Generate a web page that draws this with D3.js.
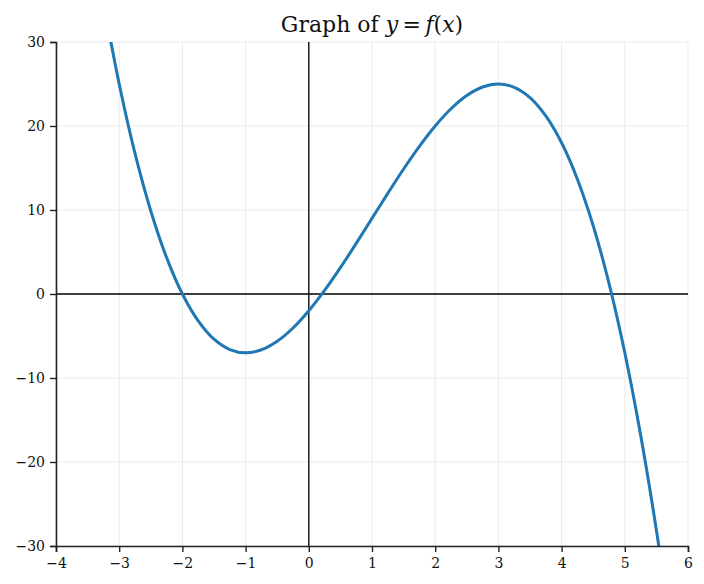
<!DOCTYPE html>
<html>
<head>
<meta charset="utf-8">
<script src="https://cdn.jsdelivr.net/npm/d3@7"></script>
<style>
  body { margin: 0; background: #fff; }
  text { font-family: 'DejaVu Serif', serif; }
</style>
</head>
<body>
<div id="chart"></div>
<script>
// points
const xs = [-3.25, -3, -2.75, -2.5, -2.25, -2, -1.75, -1.5, -1.25, -1, -0.75, -0.5, -0.25,
  0, 0.25, 0.5, 0.75, 1, 1.25, 1.5, 1.75, 2, 2.25, 2.5, 2.75, 3, 3.25, 3.5, 3.75,
  4, 4.25, 4.5, 4.75, 5, 5.25, 5.5, 5.75]
const ys = [34.77, 25, 16.73, 9.88, 4.33, 0, -3.2, -5.38, -6.61, -7, -6.64, -5.63, -4.05,
  -2, 0.42, 3.13, 6.02, 9, 11.98, 14.88, 17.58, 20, 22.05, 23.63, 24.64, 25, 24.61, 23.38, 21.2,
  18, 13.67, 8.13, 1.27, -7, -16.77, -28.13, -41.17]
const xTicks = [-4, -3, -2, -1, 0, 1, 2, 3, 4, 5, 6]
const yTicks = [-30, -20, -10, 0, 10, 20, 30]

const width = 704
const height = 584
const margin = { top: 42, right: 16, bottom: 38, left: 56 }

const svg = d3.select('#chart')
  .append('svg')
  .attr('width', width)
  .attr('height', height)

const x = d3.scaleLinear()
  .domain([-4, 6])
  .range([margin.left, width - margin.right])

const y = d3.scaleLinear()
  .domain([-30, 30])
  .range([height - margin.bottom, margin.top])

// grid
const grid = svg.append('g').classed('grid', true)
grid.selectAll('.gx').data(xTicks).enter().append('line')
  .attr('x1', d => x(d)).attr('x2', d => x(d))
  .attr('y1', y(-30)).attr('y2', y(30))
  .attr('stroke', '#e6e6e6').attr('stroke-width', 0.8)
grid.selectAll('.gy').data(yTicks).enter().append('line')
  .attr('x1', x(-4)).attr('x2', x(6))
  .attr('y1', d => y(d)).attr('y2', d => y(d))
  .attr('stroke', '#e6e6e6').attr('stroke-width', 0.8)

// zero lines
svg.append('line')
  .attr('x1', x(-4)).attr('x2', x(6))
  .attr('y1', y(0)).attr('y2', y(0))
  .attr('stroke', '#000').attr('stroke-width', 1.3)
svg.append('line')
  .attr('x1', x(0)).attr('x2', x(0))
  .attr('y1', y(-30)).attr('y2', y(30))
  .attr('stroke', '#000').attr('stroke-width', 1.3)

// curve
svg.append('clipPath').attr('id', 'clip')
  .append('rect')
  .attr('x', x(-4)).attr('y', y(30))
  .attr('width', x(6) - x(-4)).attr('height', y(-30) - y(30))

const line = d3.line()
  .x(d => x(d[0]))
  .y(d => y(d[1]))
  .curve(d3.curveCatmullRom)

svg.append('path')
  .datum(d3.zip(xs, ys))
  .attr('clip-path', 'url(#clip)')
  .attr('d', line)
  .attr('fill', 'none')
  .attr('stroke', '#1f77b4')
  .attr('stroke-width', 3)

// axes
const xAxis = g => g
  .attr('transform', `translate(0,${y(-30)})`)
  .call(d3.axisBottom(x).tickValues(xTicks).tickSize(6).tickPadding(6).tickFormat(d3.format('d')))

const yAxis = g => g
  .attr('transform', `translate(${x(-4)},0)`)
  .call(d3.axisLeft(y).tickValues(yTicks).tickSize(6).tickPadding(5).tickFormat(d3.format('d')))

svg.append('g').call(xAxis).attr('font-size', 14).attr('font-family', "'DejaVu Serif', serif")
svg.append('g').call(yAxis).attr('font-size', 14).attr('font-family', "'DejaVu Serif', serif")

svg.selectAll('.domain').attr('stroke', '#222').attr('stroke-width', 1.6)
svg.selectAll('.tick line').attr('stroke', '#222').attr('stroke-width', 1.4)
svg.selectAll('.tick text').attr('fill', '#111')

// title
const title = svg.append('text')
  .attr('x', (x(-4) + x(6)) / 2)
  .attr('y', 32)
  .attr('text-anchor', 'middle')
  .attr('font-size', 22)
  .attr('fill', '#111')
title.append('tspan').text('Graph of ')
title.append('tspan').attr('font-style', 'italic').text('y')
title.append('tspan').text('\u2009=\u2009')
title.append('tspan').attr('font-style', 'italic').text('f')
title.append('tspan').text('(')
title.append('tspan').attr('font-style', 'italic').text('x')
title.append('tspan').text(')')
</script>
</body>
</html>
